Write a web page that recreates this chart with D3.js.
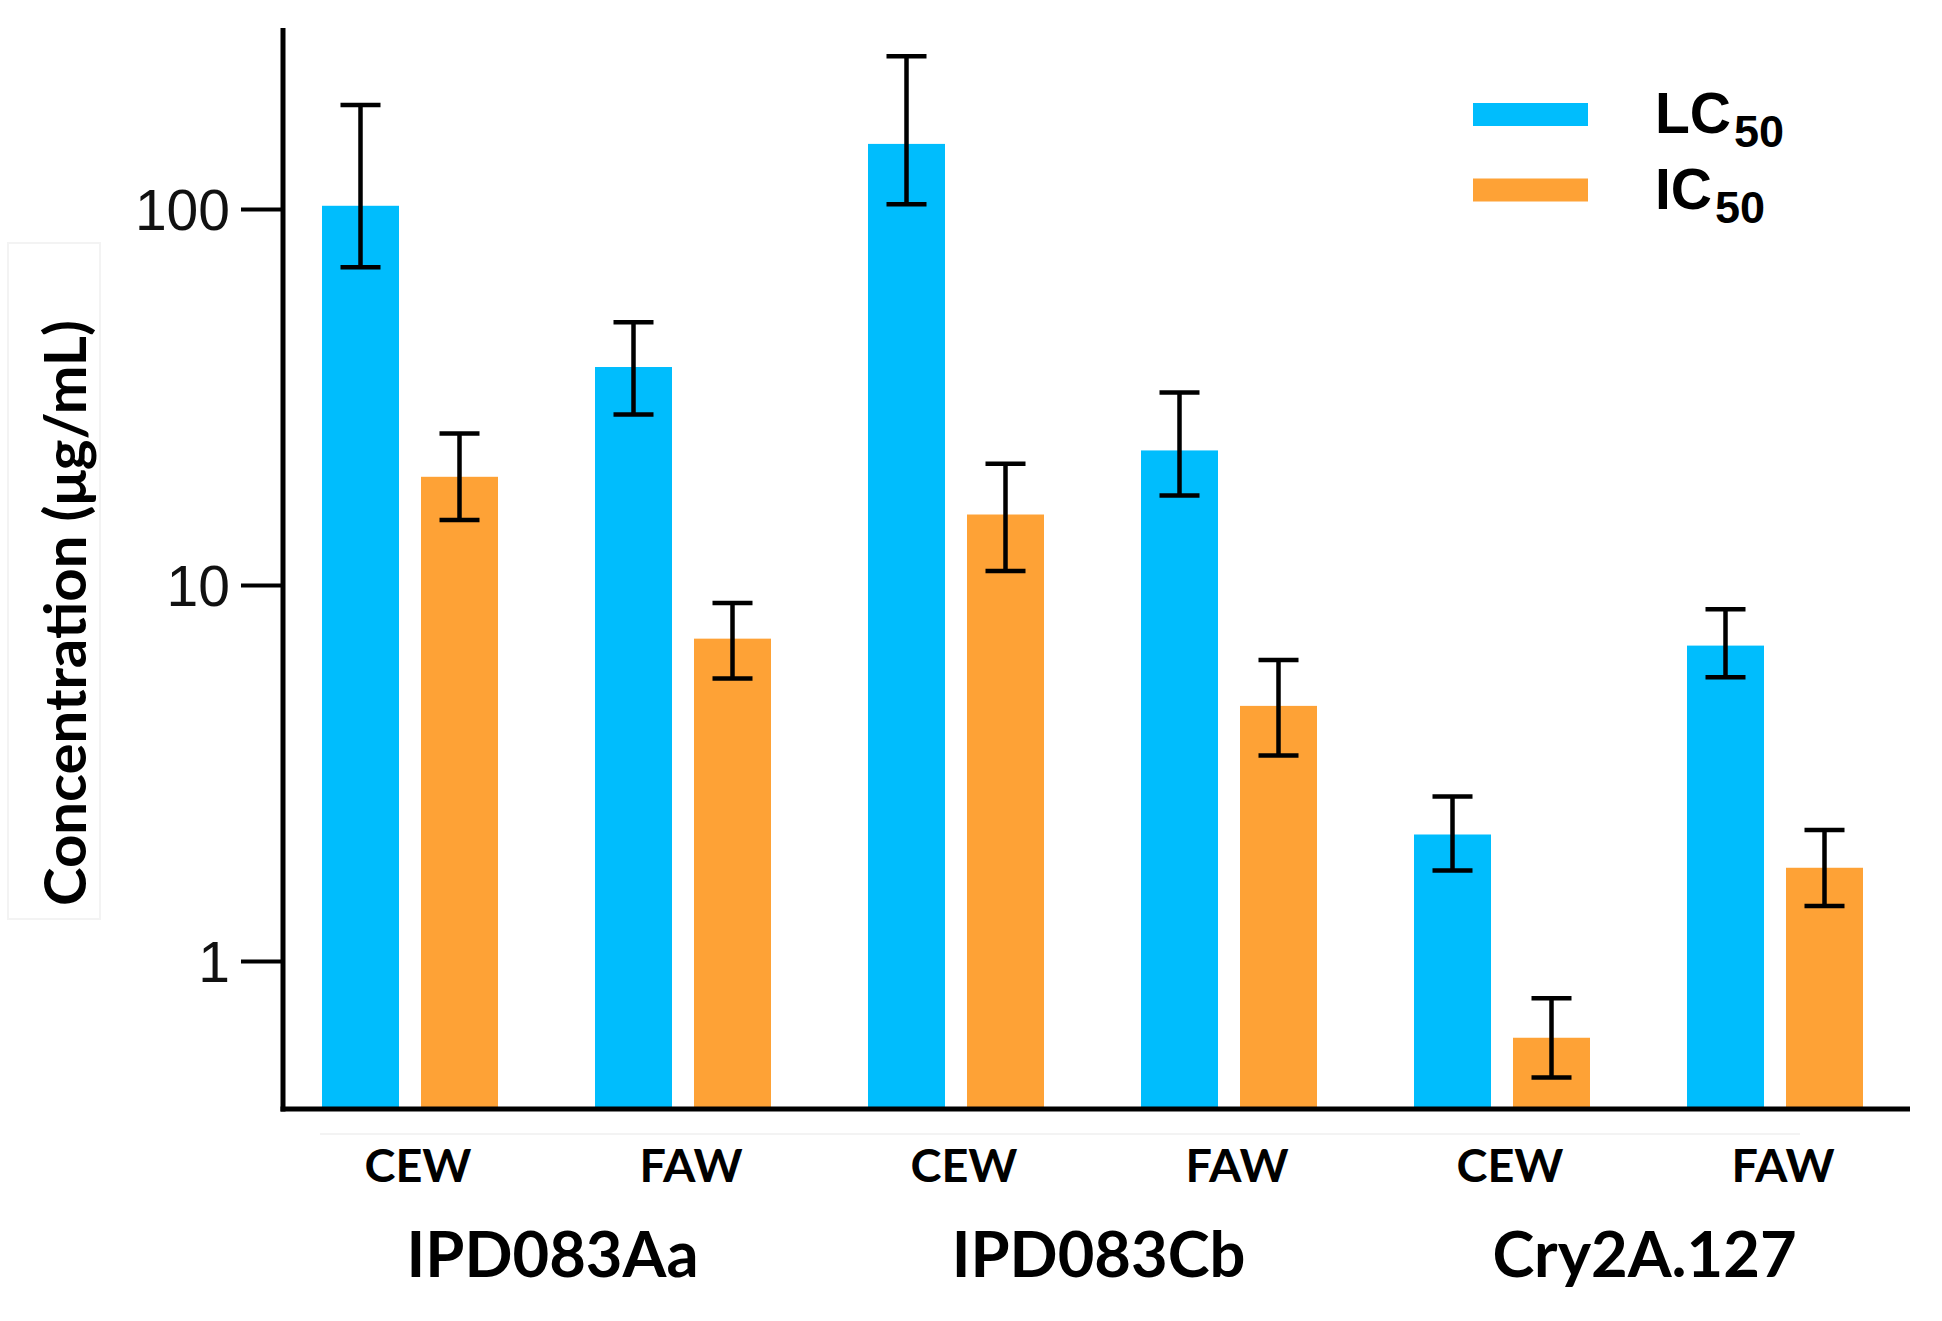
<!DOCTYPE html>
<html>
<head>
<meta charset="utf-8">
<script src="https://cdn.jsdelivr.net/npm/d3@7"></script>
<style>
  html, body { margin: 0; padding: 0; background: #fff; }
  svg { display: block; }
</style>
</head>
<body>
<svg id="chart" width="1942" height="1321"></svg>
<script>
// ---------------- data ----------------
const groups = ["IPD083Aa", "IPD083Cb", "Cry2A.127"];
const insects = ["CEW", "FAW"];
const seriesNames = ["LC", "IC"];
const seriesSub = ["50", "50"];
// order: Aa-CEW, Aa-FAW, Cb-CEW, Cb-FAW, Cry-CEW, Cry-FAW
const lcValues = [102, 38, 149, 22.8, 2.17, 6.9];
const lcLower  = [70, 28.4, 103, 17.3, 1.74, 5.68];
const lcUpper  = [189, 50, 255, 32.5, 2.74, 8.62];
const icValues = [19.4, 7.2, 15.4, 4.77, 0.625, 1.77];
const icLower  = [14.9, 5.64, 10.9, 3.52, 0.49, 1.40];
const icUpper  = [25.3, 8.96, 21, 6.32, 0.796, 2.23];
const yTicks = [1, 10, 100];
const yTitle = "Concentration (\u03bcg/mL)";
const colors = ["#00BDFD", "#FEA236"];

// ---------------- layout ----------------
const svg = d3.select("#chart");
const axisX = 283, axisTop = 28, axisBottom = 1109, axisRight = 1910;

const y = d3.scaleLog().domain([0.404, 303]).range([axisBottom, axisTop]);
const xGroup = d3.scaleBand().domain(groups).range([273.5, 1911.5]).padding(0);
const xInsect = d3.scaleBand().domain(insects).range([0, xGroup.bandwidth()]).padding(0);
const pairHalf = 88;
const xSeries = d3.scaleBand().domain(seriesNames)
  .range([xInsect.bandwidth() / 2 - pairHalf, xInsect.bandwidth() / 2 + pairHalf])
  .paddingInner(22 / 99).paddingOuter(0);

// build records
const records = [];
groups.forEach((g, gi) => {
  insects.forEach((ins, ii) => {
    const k = gi * insects.length + ii;
    records.push({g, ins, s: "LC", v: lcValues[k], lo: lcLower[k], hi: lcUpper[k], c: colors[0]});
    records.push({g, ins, s: "IC", v: icValues[k], lo: icLower[k], hi: icUpper[k], c: colors[1]});
  });
});
const bx = d => xGroup(d.g) + xInsect(d.ins) + xSeries(d.s);

// faint background artifacts (title box, line under axis)
svg.append("rect").attr("x", 8).attr("y", 243).attr("width", 92).attr("height", 676)
  .attr("fill", "none").attr("stroke", "#f3f3f3").attr("stroke-width", 2);
svg.append("line").attr("x1", 320).attr("x2", 1800).attr("y1", 1134).attr("y2", 1134)
  .attr("stroke", "#f3f3f3").attr("stroke-width", 2);

// bars
svg.append("g").selectAll("rect").data(records).join("rect")
  .attr("x", bx)
  .attr("width", xSeries.bandwidth())
  .attr("y", d => y(d.v))
  .attr("height", d => axisBottom - y(d.v))
  .attr("fill", d => d.c);

// error bars
const eb = svg.append("g").attr("stroke", "#000").attr("stroke-width", 4.5).attr("fill", "none");
const capW = 40;
eb.selectAll("line.v").data(records).join("line").attr("class", "v")
  .attr("x1", d => bx(d) + xSeries.bandwidth() / 2).attr("x2", d => bx(d) + xSeries.bandwidth() / 2)
  .attr("y1", d => y(d.lo)).attr("y2", d => y(d.hi));
eb.selectAll("line.t").data(records).join("line").attr("class", "t")
  .attr("x1", d => bx(d) + xSeries.bandwidth() / 2 - capW / 2).attr("x2", d => bx(d) + xSeries.bandwidth() / 2 + capW / 2)
  .attr("y1", d => y(d.hi)).attr("y2", d => y(d.hi));
eb.selectAll("line.b").data(records).join("line").attr("class", "b")
  .attr("x1", d => bx(d) + xSeries.bandwidth() / 2 - capW / 2).attr("x2", d => bx(d) + xSeries.bandwidth() / 2 + capW / 2)
  .attr("y1", d => y(d.lo)).attr("y2", d => y(d.lo));

// y axis
const yAxis = d3.axisLeft(y).tickValues(yTicks).tickFormat(d3.format("d")).tickSize(42).tickPadding(11);
const gy = svg.append("g").attr("transform", `translate(${axisX},0)`).call(yAxis);
gy.select(".domain").remove();
gy.selectAll(".tick line").attr("stroke", "#000").attr("stroke-width", 4);
gy.selectAll(".tick text")
  .attr("font-family", "'Liberation Sans', Arial, sans-serif")
  .attr("font-size", 57).attr("fill", "#111").attr("dy", "0.36em");

// axis lines
svg.append("line").attr("x1", axisX).attr("x2", axisX).attr("y1", axisTop).attr("y2", axisBottom + 2.5)
  .attr("stroke", "#000").attr("stroke-width", 5);
svg.append("line").attr("x1", axisX - 2.5).attr("x2", axisRight).attr("y1", axisBottom).attr("y2", axisBottom)
  .attr("stroke", "#000").attr("stroke-width", 5);

// fit helper
function fitSize(sel, target) {
  const w = sel.node().getComputedTextLength();
  const fs = parseFloat(sel.attr("font-size"));
  return fs * target / w;
}

// insect labels
const insectData = [];
groups.forEach(g => insects.forEach(ins => insectData.push({g, ins})));
const insL = svg.append("g").selectAll("text").data(insectData).join("text")
  .attr("x", d => xGroup(d.g) + xInsect(d.ins) + xInsect.bandwidth() / 2 + 8)
  .attr("y", 1182)
  .attr("text-anchor", "middle")
  .attr("font-family", "Lato, 'Open Sans', sans-serif")
  .attr("font-weight", "bold")
  .attr("font-size", 48)
  .text(d => d.ins);
const insFs = fitSize(insL.filter((d, i) => i === 0), 107);
insL.attr("font-size", insFs);

// group labels
const grpL = svg.append("g").selectAll("text").data(groups).join("text")
  .attr("x", d => xGroup(d) + xGroup.bandwidth() / 2 + 6)
  .attr("y", 1277)
  .attr("text-anchor", "middle")
  .attr("font-family", "Lato, 'Open Sans', sans-serif")
  .attr("font-weight", "bold")
  .attr("font-size", 64)
  .text(d => d);
const grpFs = fitSize(grpL.filter((d, i) => i === 0), 292);
grpL.attr("font-size", grpFs);

// y title
const yt = svg.append("text")
  .attr("transform", "translate(86,613) rotate(-90)")
  .attr("text-anchor", "middle")
  .attr("font-family", "Lato, 'Open Sans', sans-serif")
  .attr("font-weight", "bold")
  .attr("font-size", 52)
  .text(yTitle);
yt.attr("font-size", fitSize(yt, 586));

// legend
const legY = [114.5, 190];
const leg = svg.append("g");
seriesNames.forEach((s, i) => {
  leg.append("rect").attr("x", 1473).attr("y", legY[i] - 11.5).attr("width", 115).attr("height", 23)
    .attr("fill", colors[i]);
  const t = leg.append("text").attr("x", 1655).attr("y", legY[i] + 18.5)
    .attr("font-family", "'Liberation Sans', Arial, sans-serif")
    .attr("font-weight", "bold").attr("font-size", 57).attr("fill", "#000");
  t.append("tspan").text(s);
  t.append("tspan").attr("font-size", 45).attr("dy", 14).attr("dx", 3).text(seriesSub[i]);
});
</script>
</body>
</html>
